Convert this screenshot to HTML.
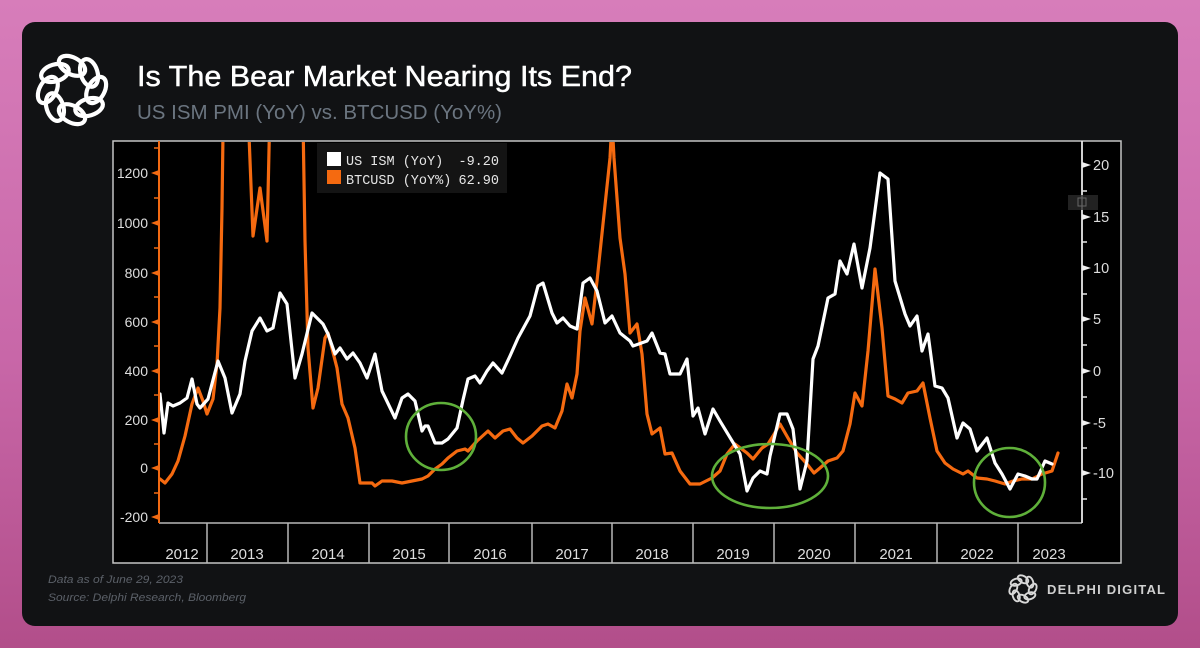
<!DOCTYPE html>
<html>
<head>
<meta charset="utf-8">
<style>
  html,body{margin:0;padding:0;width:1200px;height:648px;overflow:hidden;}
  body{background:linear-gradient(180deg,#d77dba 0%,#c867a8 55%,#b24e8a 100%);}
  svg{display:block;}
</style>
</head>
<body>
<svg width="1200" height="648" viewBox="0 0 1200 648" xmlns="http://www.w3.org/2000/svg">
  <defs>
    <clipPath id="plot"><rect x="160" y="142" width="921" height="380"/></clipPath>
    <g id="knot" fill="none">
      <g transform="rotate(0) translate(0,-23) rotate(28)"><ellipse rx="13.5" ry="8"/></g>
      <g transform="rotate(45) translate(0,-23) rotate(28)"><ellipse rx="13.5" ry="8"/></g>
      <g transform="rotate(90) translate(0,-23) rotate(28)"><ellipse rx="13.5" ry="8"/></g>
      <g transform="rotate(135) translate(0,-23) rotate(28)"><ellipse rx="13.5" ry="8"/></g>
      <g transform="rotate(180) translate(0,-23) rotate(28)"><ellipse rx="13.5" ry="8"/></g>
      <g transform="rotate(225) translate(0,-23) rotate(28)"><ellipse rx="13.5" ry="8"/></g>
      <g transform="rotate(270) translate(0,-23) rotate(28)"><ellipse rx="13.5" ry="8"/></g>
      <g transform="rotate(315) translate(0,-23) rotate(28)"><ellipse rx="13.5" ry="8"/></g>
    </g>
  </defs>
  <!-- card -->
  <rect x="22" y="22" width="1156" height="604" rx="13" ry="13" fill="#111214"/>

  <!-- top-left logo -->
  <g transform="translate(72,90) scale(1.05)" stroke="#ffffff" stroke-width="4">
    <use href="#knot"/>
  </g>

  <!-- titles -->
  <text x="137" y="86" font-family="Liberation Sans, sans-serif" font-size="28.5" fill="#ffffff" stroke="#ffffff" stroke-width="0.45" textLength="495" lengthAdjust="spacingAndGlyphs">Is The Bear Market Nearing Its End?</text>
  <text x="137" y="119" font-family="Liberation Sans, sans-serif" font-size="20" fill="#6b7580" textLength="365" lengthAdjust="spacingAndGlyphs">US ISM PMI (YoY) vs. BTCUSD (YoY%)</text>

  <!-- chart frame -->
  <rect x="113" y="141" width="1008" height="422" fill="#000000" stroke="#c4c4c4" stroke-width="1.5"/>

  <!-- x-axis baseline & year separators -->
  <g stroke="#b8b8b8" stroke-width="1.5">
    <line x1="159" y1="523" x2="1082" y2="523"/>
    <line x1="207" y1="523" x2="207" y2="563"/>
    <line x1="288" y1="523" x2="288" y2="563"/>
    <line x1="369" y1="523" x2="369" y2="563"/>
    <line x1="449" y1="523" x2="449" y2="563"/>
    <line x1="532" y1="523" x2="532" y2="563"/>
    <line x1="612" y1="523" x2="612" y2="563"/>
    <line x1="693" y1="523" x2="693" y2="563"/>
    <line x1="774" y1="523" x2="774" y2="563"/>
    <line x1="855" y1="523" x2="855" y2="563"/>
    <line x1="937" y1="523" x2="937" y2="563"/>
    <line x1="1018" y1="523" x2="1018" y2="563"/>
  </g>
  <g font-family="Liberation Sans, sans-serif" font-size="15" fill="#dedede" text-anchor="middle">
    <text x="182" y="559">2012</text>
    <text x="247" y="559">2013</text>
    <text x="328" y="559">2014</text>
    <text x="409" y="559">2015</text>
    <text x="490" y="559">2016</text>
    <text x="572" y="559">2017</text>
    <text x="652" y="559">2018</text>
    <text x="733" y="559">2019</text>
    <text x="814" y="559">2020</text>
    <text x="896" y="559">2021</text>
    <text x="977" y="559">2022</text>
    <text x="1049" y="559">2023</text>
  </g>

  <!-- left axis (orange) -->
  <line x1="159" y1="141" x2="159" y2="523" stroke="#f26a12" stroke-width="2"/>
  <g fill="#f26a12">
    <polygon points="159,170 151,173 159,176"/>
    <polygon points="159,220 151,223 159,226"/>
    <polygon points="159,270 151,273 159,276"/>
    <polygon points="159,319 151,322 159,325"/>
    <polygon points="159,368 151,371 159,374"/>
    <polygon points="159,417 151,420 159,423"/>
    <polygon points="159,465 151,468 159,471"/>
    <polygon points="159,514 151,517 159,520"/>
  </g>
  <g stroke="#f26a12" stroke-width="1.5">
    <line x1="154" y1="148" x2="159" y2="148"/>
    <line x1="154" y1="198" x2="159" y2="198"/>
    <line x1="154" y1="248" x2="159" y2="248"/>
    <line x1="154" y1="297" x2="159" y2="297"/>
    <line x1="154" y1="346" x2="159" y2="346"/>
    <line x1="154" y1="395" x2="159" y2="395"/>
    <line x1="154" y1="444" x2="159" y2="444"/>
    <line x1="154" y1="493" x2="159" y2="493"/>
  </g>
  <g font-family="Liberation Sans, sans-serif" font-size="14" fill="#dedede" text-anchor="end">
    <text x="148" y="178">1200</text>
    <text x="148" y="228">1000</text>
    <text x="148" y="278">800</text>
    <text x="148" y="327">600</text>
    <text x="148" y="376">400</text>
    <text x="148" y="425">200</text>
    <text x="148" y="473">0</text>
    <text x="148" y="522">-200</text>
  </g>

  <!-- right axis (white) -->
  <line x1="1082" y1="141" x2="1082" y2="523" stroke="#e8e8e8" stroke-width="1.8"/>
  <g fill="#f0f0f0">
    <polygon points="1082,162 1091,165 1082,168"/>
    <polygon points="1082,214 1091,217 1082,220"/>
    <polygon points="1082,265 1091,268 1082,271"/>
    <polygon points="1082,316 1091,319 1082,322"/>
    <polygon points="1082,368 1091,371 1082,374"/>
    <polygon points="1082,420 1091,423 1082,426"/>
    <polygon points="1082,470 1091,473 1082,476"/>
  </g>
  <g stroke="#e8e8e8" stroke-width="1.5">
    <line x1="1082" y1="191" x2="1087" y2="191"/>
    <line x1="1082" y1="242" x2="1087" y2="242"/>
    <line x1="1082" y1="294" x2="1087" y2="294"/>
    <line x1="1082" y1="345" x2="1087" y2="345"/>
    <line x1="1082" y1="397" x2="1087" y2="397"/>
    <line x1="1082" y1="448" x2="1087" y2="448"/>
    <line x1="1082" y1="499" x2="1087" y2="499"/>
  </g>
  <g font-family="Liberation Sans, sans-serif" font-size="14.5" fill="#dedede">
    <text x="1093" y="170">20</text>
    <text x="1093" y="222">15</text>
    <text x="1093" y="273">10</text>
    <text x="1093" y="324">5</text>
    <text x="1093" y="376">0</text>
    <text x="1093" y="428">-5</text>
    <text x="1093" y="478">-10</text>
  </g>
  <!-- small dim icon near right axis -->
  <rect x="1068" y="195" width="30" height="15" fill="#2b2b2b" opacity="0.8"/>
  <rect x="1078" y="198" width="8" height="8" fill="none" stroke="#666" stroke-width="1"/>

  <!-- series -->
  <g clip-path="url(#plot)" fill="none" stroke-linejoin="round" stroke-linecap="round">
    <polyline stroke="#f56a10" stroke-width="3.2" points="160,479 165,483 172,474 178,461 185,436 192,404 198,388 203,401 207,414 213,399 217,364 220,308 222,208 224,60 246,60 253,236 260,188 267,241 271,60 302,60 305,241 308,348 313,408 318,388 325,338 328,333 337,368 342,404 348,418 355,448 360,483 365,483 372,483 375,486 382,481 392,481 402,483 412,481 422,479 428,476 435,469 442,464 448,458 457,451 465,449 468,451 477,441 488,431 495,438 503,431 510,429 517,438 523,443 532,436 542,426 548,424 555,428 562,411 567,384 572,398 577,374 580,331 585,298 592,324 597,281 603,224 610,158 612,120 614,158 620,238 625,274 630,333 637,324 642,354 647,414 652,434 660,428 665,454 672,453 680,471 690,484 700,484 712,478 720,471 727,454 735,444 747,453 753,459 762,448 768,444 773,436 780,424 788,438 797,453 807,464 814,473 820,468 828,461 837,458 843,451 850,424 855,393 862,406 868,351 875,269 882,328 888,396 895,399 902,403 908,393 917,391 923,383 930,418 937,451 945,463 953,469 963,474 968,471 977,478 987,479 995,481 1005,484 1013,481 1022,479 1032,479 1042,474 1052,471 1058,453"/>
    <polyline stroke="#ffffff" stroke-width="3.2" points="160,394 164,433 168,403 173,406 180,403 187,398 192,379 197,404 200,408 208,399 218,361 225,378 232,413 240,394 245,361 252,331 260,318 267,331 273,328 280,293 287,304 295,378 302,354 312,313 323,324 328,334 335,354 340,348 347,359 353,353 360,363 367,378 375,354 382,391 395,418 402,398 408,394 415,401 422,431 425,426 428,426 435,443 442,443 448,439 457,428 463,400 468,379 475,376 480,383 487,371 493,363 502,373 510,356 518,338 530,316 538,286 543,283 552,313 557,323 563,318 570,326 577,329 583,283 590,278 597,291 605,323 612,316 620,333 630,341 633,346 647,341 652,333 660,353 665,354 670,374 680,374 687,359 693,416 698,408 705,434 713,409 720,421 740,454 747,491 753,478 760,471 767,474 770,456 780,414 787,414 793,429 800,489 807,461 813,359 818,346 828,298 835,294 840,261 847,274 854,244 862,288 870,248 880,173 888,179 895,281 905,314 910,326 917,316 922,351 928,334 935,386 942,388 948,398 957,438 963,423 970,429 977,451 987,438 995,463 1002,474 1010,489 1018,474 1025,476 1032,479 1037,479 1045,461 1052,464"/>
  </g>

  <!-- legend -->
  <rect x="317" y="143" width="190" height="50" fill="#141414"/>
  <rect x="327" y="152" width="14" height="14" fill="#ffffff"/>
  <rect x="327" y="170" width="14" height="14" fill="#f56a10"/>
  <g font-family="Liberation Mono, monospace" font-size="13.5" fill="#e6e6e6">
    <text x="346" y="165">US ISM (YoY)</text>
    <text x="499" y="165" text-anchor="end">-9.20</text>
    <text x="346" y="184">BTCUSD (YoY%)</text>
    <text x="499" y="184" text-anchor="end">62.90</text>
  </g>

  <!-- green annotation circles -->
  <g fill="none" stroke="#5fb03a" stroke-width="2.6">
    <ellipse cx="441" cy="436.5" rx="35" ry="33.5"/>
    <ellipse cx="770" cy="476" rx="58" ry="32"/>
    <ellipse cx="1009.5" cy="482.5" rx="35.5" ry="34.5"/>
  </g>

  <!-- footnotes -->
  <g font-family="Liberation Sans, sans-serif" font-size="11" font-style="italic" fill="#5b6068">
    <text x="48" y="583" textLength="135" lengthAdjust="spacingAndGlyphs">Data as of June 29, 2023</text>
    <text x="48" y="601" textLength="198" lengthAdjust="spacingAndGlyphs">Source: Delphi Research, Bloomberg</text>
  </g>

  <!-- bottom-right brand -->
  <g transform="translate(1023,589) scale(0.42)" stroke="#d8d8d8" stroke-width="4.5">
    <use href="#knot"/>
  </g>
  <text x="1047" y="594" font-family="Liberation Sans, sans-serif" font-size="13" font-weight="bold" fill="#d0d0d0" textLength="118" lengthAdjust="spacing">DELPHI DIGITAL</text>
</svg>
</body>
</html>
